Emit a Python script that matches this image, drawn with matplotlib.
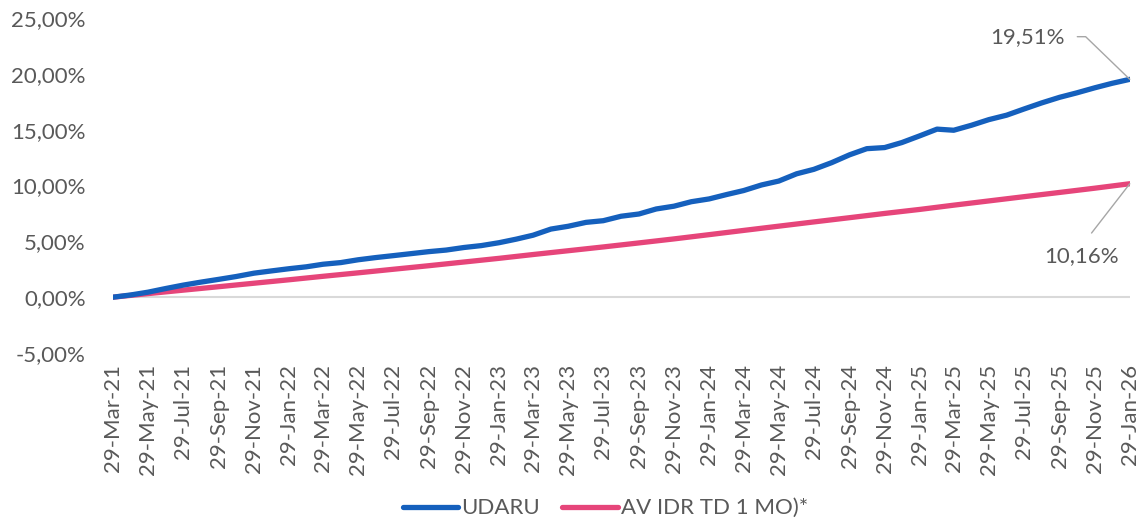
import matplotlib.pyplot as plt
import pandas as pd

# monthly observations, 29-Mar-21 .. 29-Jan-26 (cumulative return, %)
udaru = [0.00, 0.20, 0.45, 0.78, 1.08, 1.35, 1.60, 1.85, 2.15, 2.35,
         2.55, 2.72, 2.95, 3.10, 3.35, 3.55, 3.72, 3.90, 4.08, 4.22,
         4.45, 4.62, 4.88, 5.20, 5.55, 6.10, 6.35, 6.70, 6.85, 7.25,
         7.45, 7.90, 8.15, 8.55, 8.80, 9.20, 9.55, 10.05, 10.40, 11.05,
         11.45, 12.05, 12.75, 13.30, 13.40, 13.85, 14.45, 15.05, 14.95, 15.40,
         15.90, 16.30, 16.85, 17.40, 17.90, 18.30, 18.75, 19.15, 19.51]

# bi-monthly observations for the deposit benchmark
av_idr = [0.00, 0.32, 0.63, 0.94, 1.25, 1.56, 1.87, 2.18, 2.50, 2.82,
          3.15, 3.48, 3.82, 4.16, 4.50, 4.86, 5.22, 5.60, 5.98, 6.36,
          6.74, 7.12, 7.50, 7.86, 8.24, 8.62, 9.00, 9.38, 9.76, 10.16]

series_names = ["UDARU", "AV IDR TD 1 MO)*"]
y_ticks = [-5, 0, 5, 10, 15, 20, 25]

start = pd.Timestamp("2021-03-29")
dates_m = [start + pd.DateOffset(months=i) for i in range(len(udaru))]
dates_2m = dates_m[::2]

blue = "#1560bd"
pink = "#e6457a"
grey = "#595959"

plt.rcParams['font.family'] = ['Lato', 'DejaVu Sans']

fig = plt.figure(figsize=(11.47, 5.24), dpi=100)
ax = fig.add_axes([0.0985, 0.3263, 0.8865, 0.6393])

ax.axhline(0, color="#d9d9d9", lw=1.5, zorder=1)
ax.plot(dates_m, udaru, color=blue, lw=3.8, label=series_names[0], zorder=3,
        solid_capstyle='round')
ax.plot(dates_2m, av_idr, color=pink, lw=3.8, label=series_names[1], zorder=2,
        solid_capstyle='round')

ax.set_xlim(dates_m[0], dates_m[-1])
ax.set_ylim(-5, 25)
ax.set_yticks(y_ticks)
ax.set_yticklabels([f"{v:.2f}%".replace(".", ",") for v in y_ticks])
ax.set_xticks(dates_2m)
ax.set_xticklabels([d.strftime("%d-%b-%y") for d in dates_2m], rotation=90)
ax.tick_params(axis='both', length=0, labelsize=16, labelcolor=grey)
ax.tick_params(axis='y', pad=19.5)
ax.tick_params(axis='x', pad=8)
for s in ax.spines.values():
    s.set_visible(False)

# end-value callouts
ax.annotate(f"{udaru[-1]:.2f}%".replace(".", ","), xy=(dates_m[-1], udaru[-1]),
            xytext=(-46.8, 30.7), textcoords='offset points', ha='right', va='center',
            fontsize=16, color=grey,
            arrowprops=dict(arrowstyle='-', color='#a6a6a6', lw=1, relpos=(1, 0.5),
                            shrinkA=7, shrinkB=0,
                            connectionstyle='angle,angleA=0,angleB=136,rad=0'))
ax.annotate(f"{av_idr[-1]:.2f}%".replace(".", ","), xy=(dates_2m[-1], av_idr[-1]),
            xytext=(-34.6, -51.8), textcoords='offset points', ha='center', va='center',
            fontsize=16, color=grey,
            arrowprops=dict(arrowstyle='-', color='#a6a6a6', lw=1, relpos=(0.5, 1),
                            shrinkA=9, shrinkB=0))

fig.legend(loc='center', bbox_to_anchor=(0.528, 0.03), ncol=2, frameon=False,
           fontsize=16, labelcolor=grey, handlelength=2.5, handletextpad=0.15,
           columnspacing=1.0)

fig.savefig("out.png", dpi=100)
